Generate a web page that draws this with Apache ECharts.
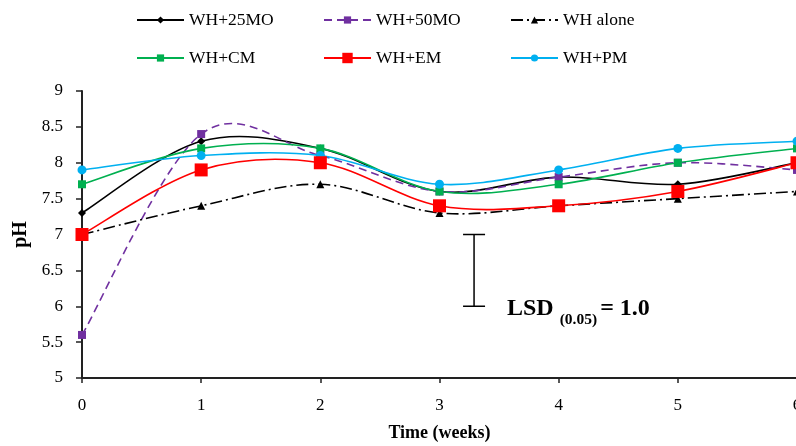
<!DOCTYPE html>
<html>
<head>
<meta charset="utf-8">
<script src="https://cdn.jsdelivr.net/npm/echarts@6/dist/echarts.min.js"></script>
<style>html,body{margin:0;padding:0;background:#fff}#c{width:796px;height:446px}</style>
</head>
<body>
<div id="c"></div>
<script>
const weeks = [0, 1, 2, 3, 4, 5, 6];
const wh25MO = [7.3, 8.3, 8.2, 7.6, 7.8, 7.7, 8.0];
const wh50MO = [5.6, 8.4, 8.1, 7.6, 7.8, 8.0, 7.9];
const whAlone = [7.0, 7.4, 7.7, 7.3, 7.4, 7.5, 7.6];
const whCM = [7.7, 8.2, 8.2, 7.6, 7.7, 8.0, 8.2];
const whEM = [7.0, 7.9, 8.0, 7.4, 7.4, 7.6, 8.0];
const whPM = [7.9, 8.1, 8.1, 7.7, 7.9, 8.2, 8.3];
const seriesNames = ['WH+25MO', 'WH+50MO', 'WH alone', 'WH+CM', 'WH+EM', 'WH+PM'];
const lsdValue = 1.0;
const lsdWeek = 3.29;
const lsdTop = 7.0;

const FONT = '"Liberation Serif", "Times New Roman", serif';
const pair = arr => weeks.map((w, i) => [w, arr[i]]);

const styles = [
  {data: wh25MO, color: '#000000', symbol: 'diamond', size: 8, dash: null, type: 'solid'},
  {data: wh50MO, color: '#7030A0', symbol: 'rect', size: 8, dash: [8, 5], type: [8, 5]},
  {data: whAlone, color: '#000000', symbol: 'triangle', size: 8, dash: [12, 4, 2, 4], type: [12, 4, 2, 4]},
  {data: whCM, color: '#00B050', symbol: 'rect', size: 8, dash: null, type: 'solid'},
  {data: whEM, color: '#FF0000', symbol: 'rect', size: 13, dash: null, type: 'solid'},
  {data: whPM, color: '#00B0F0', symbol: 'circle', size: 9, dash: null, type: 'solid'}
];

// Excel-like smoothed curve (Catmull-Rom, 1/6 tangents) drawn through the axes' scales
function smoothCurve(color, dash) {
  return function (params, api) {
    if (params.dataIndexInside !== 0) return null;
    const n = params.dataInsideLength;
    const p = [];
    for (let k = 0; k < n; k++) p.push(api.coord([api.value(0, k), api.value(1, k)]));
    let d = 'M' + p[0][0] + ' ' + p[0][1];
    for (let k = 0; k < n - 1; k++) {
      const p0 = p[k - 1] || p[k], p1 = p[k], p2 = p[k + 1], p3 = p[k + 2] || p[k + 1];
      const c1 = [p1[0] + (p2[0] - p0[0]) / 6, p1[1] + (p2[1] - p0[1]) / 6];
      const c2 = [p2[0] - (p3[0] - p1[0]) / 6, p2[1] - (p3[1] - p1[1]) / 6];
      d += ' C' + c1[0] + ' ' + c1[1] + ' ' + c2[0] + ' ' + c2[1] + ' ' + p2[0] + ' ' + p2[1];
    }
    return {
      type: 'path',
      shape: {pathData: d},
      style: {stroke: color, fill: 'none', lineWidth: 1.6, lineDash: dash}
    };
  };
}

const series = [];
styles.forEach((s, i) => {
  series.push({
    type: 'custom',
    silent: true,
    data: pair(s.data),
    renderItem: smoothCurve(s.color, s.dash),
    z: 2
  });
});
styles.forEach((s, i) => {
  series.push({
    name: seriesNames[i],
    type: 'line',
    data: pair(s.data),
    symbol: s.symbol,
    symbolSize: s.size,
    itemStyle: {color: s.color},
    lineStyle: {color: s.color, width: 1.6, type: s.type, opacity: 0},
    z: i === 4 ? 4 : 3
  });
});

series.push({
  type: 'custom',
  silent: true,
  data: [[lsdWeek, lsdTop, lsdValue]],
  renderItem: function (params, api) {
    const top = api.coord([api.value(0), api.value(1)]);
    const bot = api.coord([api.value(0), api.value(1) - api.value(2)]);
    const hw = 11;
    const st = {stroke: '#000', lineWidth: 1.5};
    return {type: 'group', children: [
      {type: 'line', shape: {x1: top[0], y1: top[1], x2: bot[0], y2: bot[1]}, style: st},
      {type: 'line', shape: {x1: top[0] - hw, y1: top[1], x2: top[0] + hw, y2: top[1]}, style: st},
      {type: 'line', shape: {x1: bot[0] - hw, y1: bot[1], x2: bot[0] + hw, y2: bot[1]}, style: st}
    ]};
  },
  z: 2
});

const legendPos = [
  [136, 11], [323, 11], [510, 11],
  [136, 49], [323, 49], [510, 49]
];
const legends = seriesNames.map((n, i) => ({
  data: [n],
  left: legendPos[i][0],
  top: legendPos[i][1],
  padding: 0,
  itemWidth: 47,
  itemHeight: i === 4 ? 13 : 9,
  selectedMode: false,
  lineStyle: {opacity: 1},
  textStyle: {fontFamily: FONT, fontSize: 17.5, color: '#000'}
}));

const chart = echarts.init(document.getElementById('c'), null, {renderer: 'canvas'});
chart.setOption({
  animation: false,
  backgroundColor: '#fff',
  legend: legends,
  grid: {left: 82, right: -1, top: 91, bottom: 68, outerBoundsMode: 'none', containLabel: false},
  xAxis: {
    type: 'value', min: 0, max: 6, interval: 1,
    name: 'Time (weeks)', nameLocation: 'middle', nameGap: 46,
    nameTextStyle: {fontFamily: FONT, fontSize: 18, fontWeight: 'bold', color: '#000'},
    axisLine: {lineStyle: {color: '#222', width: 2}},
    axisTick: {show: true, length: 5, lineStyle: {color: '#222', width: 1.5}},
    axisLabel: {fontFamily: FONT, fontSize: 17, color: '#000', margin: 19, showMaxLabel: true},
    splitLine: {show: false}
  },
  yAxis: {
    type: 'value', min: 5, max: 9, interval: 0.5,
    name: 'pH', nameLocation: 'middle', nameGap: 44,
    nameTextStyle: {fontFamily: FONT, fontSize: 20, fontWeight: 'bold', color: '#000'},
    axisLine: {show: true, lineStyle: {color: '#222', width: 2}},
    axisTick: {show: true, length: 6, lineStyle: {color: '#222', width: 1.5}},
    axisLabel: {fontFamily: FONT, fontSize: 17, color: '#000', margin: 19},
    splitLine: {show: false}
  },
  graphic: [{
    type: 'text',
    left: 507, top: 297,
    style: {
      text: '{a|LSD }{b|(0.05)}{c|= 1.0}',
      rich: {
        a: {fontFamily: FONT, fontSize: 24, fontWeight: 'bold', fill: '#000', verticalAlign: 'bottom'},
        b: {fontFamily: FONT, fontSize: 15.5, fontWeight: 'bold', fill: '#000', verticalAlign: 'bottom', padding: [0, 0, -7, 0]},
        c: {fontFamily: FONT, fontSize: 24, fontWeight: 'bold', fill: '#000', verticalAlign: 'bottom', padding: [0, 0, 0, 3]}
      }
    }
  }],
  series: series
});
</script>
</body>
</html>
